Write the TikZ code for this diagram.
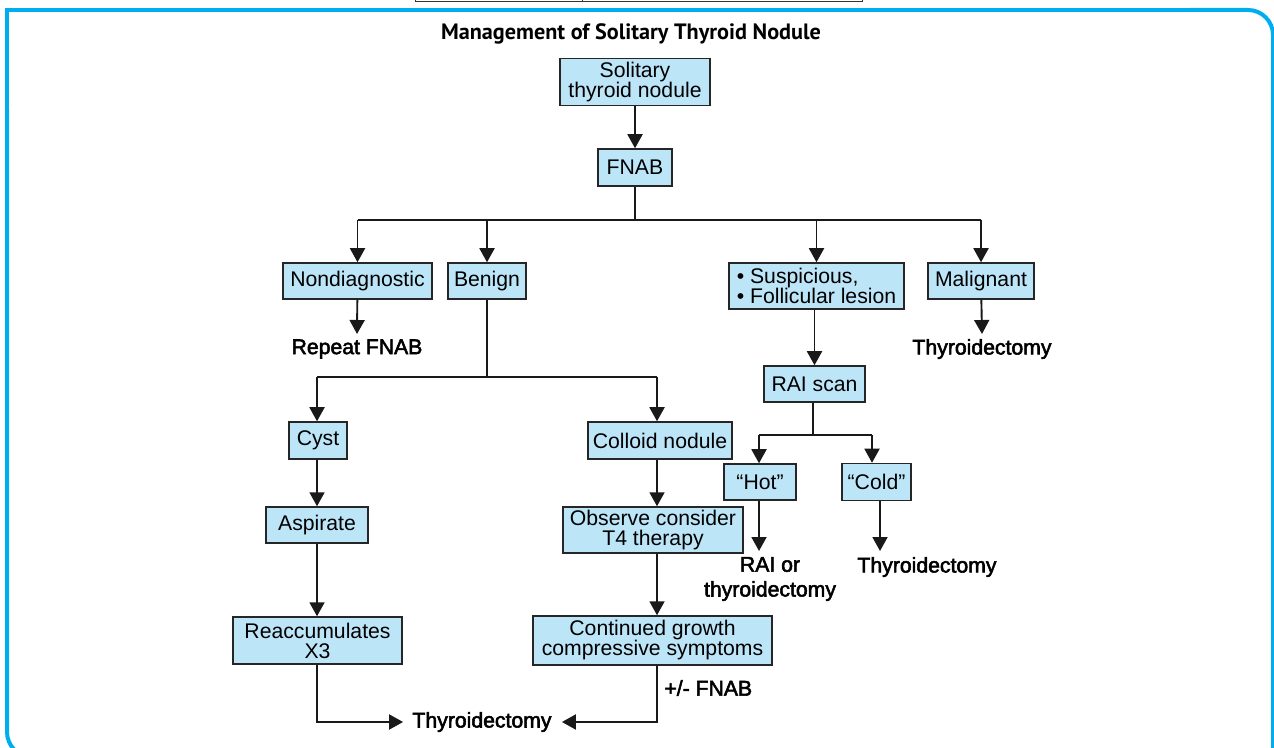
\documentclass[tikz,border=0pt]{standalone}
\usepackage{fontspec}
\setmainfont{Liberation Sans}
\newfontfamily\titlefont{PT Sans}
\newfontfamily\lblfont[FakeBold=2.5]{Liberation Sans}
\usetikzlibrary{arrows.meta}
\definecolor{boxblue}{HTML}{BDE5F8}
\definecolor{framecyan}{HTML}{00AEEF}

\begin{document}
\begin{tikzpicture}[x=0.5pt,y=-0.5pt,
    box/.style={draw=black!85,line width=0.75pt,fill=boxblue,inner sep=0pt,
        font=\fontsize{10.6}{10}\selectfont,align=center},
    lbl/.style={inner sep=0pt,font=\lblfont\fontsize{10.6}{12.4}\selectfont,align=center},
    ln/.style={line width=0.95pt,black!90},
    arr/.style={ln,-{Triangle[width=7.5pt,length=7pt]}},
    frame/.style={framecyan,line width=2pt}]
        \useasboundingbox (0,0) rectangle (1274,748);
        % frame and clipped table above
        \draw[line width=0.5pt,black!80] (415,-10) rectangle (862,1.5) (582,-10) -- (582,1.5);
        \draw[frame] (7,120) -- (7,10) -- (1200,10);
        \draw[frame,rounded corners=12.5pt] (1190,10) -- (1273,10) -- (1273,760);
        \draw[frame,rounded corners=12.5pt] (7,110) -- (7,757) -- (120,757);
        \node (title) at (631,33.5) {\titlefont\bfseries\fontsize{11.1}{12}\selectfont Management of Solitary Thyroid Nodule};
        % top
        \node[box,minimum width=75pt,minimum height=23.5pt] (nod) at (635,82) {Solitary\\thyroid nodule};
        \node[box,minimum width=37pt,minimum height=18.5pt] (fnab) at (635,167.5) {FNAB};
        \coordinate (br) at (635,220);
        \node[box,minimum width=74.5pt,minimum height=18pt] (nondiag) at (357.5,281) {Nondiagnostic};
        \node[box,minimum width=39pt,minimum height=18pt] (benign) at (487,281) {Benign};
        \node[box,minimum width=87.5pt,minimum height=23pt,align=left] (susp) at (816.5,286) {• Suspicious,\\• Follicular lesion};
        \node[box,minimum width=53pt,minimum height=18pt] (malig) at (981,281) {Malignant};
        \draw[arr] (nod) -- (fnab);
        \draw[ln] (fnab) -- (br);
        \draw[ln] (nondiag.north |- br) -- (malig.north |- br);
        \foreach \n in {nondiag,benign,susp,malig}
            \draw[arr] (\n.north |- br) -- (\n.north);
        \node[lbl] (rep) at (357,349) {Repeat FNAB};
        \node[lbl] (thymal) at (982,349) {Thyroidectomy};
        \draw[arr] (nondiag) -- (rep.north |- 0,334);
        \draw[arr] (malig) -- (thymal.north |- 0,334);
        % benign side
        \coordinate (cyx) at (317,377);
        \coordinate (cox) at (657,377);
        \node[box,minimum width=29pt,minimum height=18.5pt] (cyst) at (318,440.5) {Cyst};
        \node[box,minimum width=72pt,minimum height=18.5pt] (colloid) at (660,440.5) {Colloid nodule};
        \node[box,minimum width=51pt,minimum height=18pt] (asp) at (317,525) {Aspirate};
        \node[box,minimum width=84.5pt,minimum height=23.5pt] (reacc) at (317.5,640.5) {Reaccumulates\\X3};
        \node[box,minimum width=90pt,minimum height=23pt] (obs) at (653,530) {Observe consider\\T4 therapy};
        \node[box,minimum width=119.5pt,minimum height=24.5pt] (cont) at (652.5,640.5) {Continued growth\\compressive symptoms};
        \draw[ln] (benign) -- (benign |- cyx);
        \draw[ln] (cyx) -- (cox);
        \draw[arr] (cyx) -- (cyst.north -| cyx);
        \draw[arr] (cox) -- (colloid.north -| cox);
        \draw[arr] (cyst.south -| cyx) -- (asp.north -| cyx);
        \draw[arr] (asp.south -| cyx) -- (reacc.north -| cyx);
        \draw[arr] (colloid.south -| cox) -- (obs.north -| cox);
        \draw[arr] (obs.south -| cox) -- (cont.north -| cox);
        \node[lbl] (thyend) at (482,722) {Thyroidectomy};
        \coordinate (bl) at (317,722);
        \coordinate (brr) at (657,722);
        \draw[arr] (reacc.south -| bl) -- (bl) -- ([xshift=-4.5pt]thyend.west);
        \draw[arr] (cont.south -| brr) -- (brr) -- ([xshift=5pt]thyend.east);
        \node[lbl,anchor=west] (fnab2) at (664,688) {+/- FNAB};
        % suspicious side
        \node[box,minimum width=50.5pt,minimum height=18pt] (rai) at (814.5,384) {RAI scan};
        \node[box,minimum width=36pt,minimum height=18pt] (hot) at (760,482) {``Hot''};
        \node[box,minimum width=34.5pt,minimum height=18.5pt] (cold) at (876.5,482) {``Cold''};
        \coordinate (rj) at (813,435);
        \coordinate (hx) at (759,435);
        \coordinate (cx) at (872,435);
        \draw[arr] (susp.south -| rai) -- (rai);
        \draw[ln] (rai.south -| rj) -- (rj);
        \draw[ln] (hx) -- (cx);
        \draw[arr] (hx) -- (hot.north -| hx);
        \draw[arr] (cx) -- (cold.north -| cx);
        \node[lbl] (raith) at (770,579) {RAI or\\thyroidectomy};
        \node[lbl] (thycold) at (927,567) {Thyroidectomy};
        \draw[arr] (hot.south -| hx) -- (hx |- 0,551);
        \draw[arr] (cold.south -| 880,0) -- (880,551);
    \end{tikzpicture}
\end{document}
